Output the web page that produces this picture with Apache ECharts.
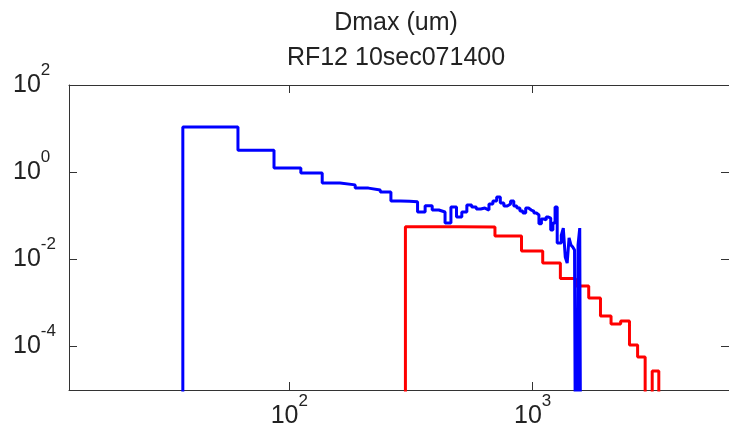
<!DOCTYPE html>
<html>
<head>
<meta charset="utf-8">
<script src="https://cdn.jsdelivr.net/npm/echarts@6/dist/echarts.min.js"></script>
<style>
html,body{margin:0;padding:0;background:#fff;}
#chart{width:729px;height:442px;}
</style>
</head>
<body>
<div id="chart"></div>
<script>
// ---- data ----
var TITLE_LINES = ['Dmax (um)', 'RF12 10sec071400'];

// blue: 25-um bins, left edges (last entry closes the final bin)
var blueEdges = [36.5, 61.5, 86.5, 111.5, 136.5, 161.5, 186.5, 211.5, 236.5, 261.5,
  286.5, 311.5, 336.5, 361.5, 386.5, 411.5, 436.5, 461.5, 486.5, 511.5,
  536.5, 561.5, 586.5, 611.5, 636.5, 661.5, 686.5, 711.5, 736.5, 761.5,
  786.5, 811.5, 836.5, 861.5, 886.5, 911.5, 936.5, 961.5, 986.5, 1011.5,
  1036.5, 1061.5, 1086.5, 1111.5, 1136.5, 1161.5, 1186.5, 1211.5, 1236.5, 1261.5,
  1286.5, 1311.5, 1336.5, 1361.5, 1386.5, 1411.5, 1436.5, 1461.5, 1486.5, 1511.5,
  1536.5, 1561.5, 1586.5];
var blueValues = [10.9, 3.2, 1.24, 0.95, 0.56, 0.51, 0.43, 0.39, 0.35, 0.218,
  0.215, 0.21, 0.1215, 0.17, 0.135, 0.122, 0.068, 0.158, 0.093, 0.1215,
  0.176, 0.158, 0.142, 0.15, 0.135, 0.185, 0.217, 0.269, 0.195, 0.167,
  0.185, 0.217, 0.167, 0.15, 0.128, 0.115, 0.15, 0.135, 0.128, 0.115,
  0.104, 0.065, 0.084, 0.08, 0.093, 0.0885, 0.047, 0.068, 0.158, 0.0236,
  0.0236, 0.036, 0.052, 0.0113, 0.0082, 0.031, 0.0213, 0.0191, 0.0163, 0,
  0.0213, 0.052, 0];

// red: 200-um bins
var redEdges = [300, 500, 700, 900, 1100, 1300, 1500, 1700, 1900, 2100, 2300, 2500, 2700, 2900, 3100, 3300];
var redValues = [0.056, 0.055, 0.0342, 0.0155, 0.0082, 0.00362, 0.00244, 0.00129, 0.000499, 0.000327,
  0.000383, 0.000108, 0.000057, 0, 0.0000272, 0];

var xTicks = [100, 1000];
var yTicks = [1e-4, 1e-2, 1, 100];
var xRange = [12.43, 6412];
var yRange = [1e-5, 100];

// ---- build ----
var FLOOR = 1e-12; // zero counts drawn below the axis floor (clipped)
function stairs(edges, vals) {
  var pts = [[edges[0], FLOOR]];
  for (var i = 0; i < edges.length; i++) {
    pts.push([edges[i], vals[i] > 0 ? vals[i] : FLOOR]);
  }
  return pts;
}
function powLabel(v) {
  var n = Math.round(Math.log(v) / Math.LN10);
  return '{b|10}{s|' + n + '}';
}
var FONT = 'Liberation Sans, Arial, Helvetica, sans-serif';
var TXT = '#222222';
var AX = '#333333';
var rich = {
  b: {fontSize: 25, lineHeight: 25, fontFamily: FONT, color: TXT, verticalAlign: 'middle'},
  s: {fontSize: 17, lineHeight: 17, fontFamily: FONT, color: TXT, verticalAlign: 'middle', padding: [0, 0, 30, 0]}
};
function axisBase(extra) {
  var o = {
    type: 'log', logBase: 10,
    axisLine: {show: true, lineStyle: {color: AX, width: 1}},
    splitLine: {show: false},
    minorTick: {show: false}
  };
  for (var k in extra) o[k] = extra[k];
  return o;
}

var chart = echarts.init(document.getElementById('chart'), null, {renderer: 'canvas'});
chart.setOption({
  animation: false,
  backgroundColor: '#ffffff',
  title: {
    text: TITLE_LINES.join('\n'),
    left: 396, top: 6, padding: 0,
    textAlign: 'center',
    textStyle: {fontFamily: FONT, fontSize: 25, lineHeight: 35, fontWeight: 'normal', color: TXT}
  },
  grid: {left: 69, right: -2, top: 85, bottom: 52, containLabel: false},
  xAxis: [
    axisBase({
      position: 'bottom', min: xRange[0], max: xRange[1],
      axisTick: {show: true, inside: true, length: 8, lineStyle: {color: AX}, customValues: xTicks},
      axisLabel: {show: true, margin: 14, customValues: xTicks, formatter: powLabel, rich: rich}
    }),
    axisBase({
      position: 'top', min: xRange[0], max: xRange[1],
      axisTick: {show: true, inside: true, length: 8, lineStyle: {color: AX}, customValues: xTicks},
      axisLabel: {show: false}
    })
  ],
  yAxis: [
    axisBase({
      position: 'left', min: yRange[0], max: yRange[1],
      axisTick: {show: true, inside: true, length: 8, lineStyle: {color: AX}, customValues: yTicks},
      axisLabel: {show: true, margin: 56, align: 'left', customValues: yTicks, formatter: powLabel, rich: rich}
    }),
    axisBase({
      position: 'right', min: yRange[0], max: yRange[1],
      axisTick: {show: true, inside: true, length: 8, lineStyle: {color: AX}, customValues: yTicks},
      axisLabel: {show: false}
    })
  ],
  series: [
    {
      type: 'line', name: 'red', step: 'end', symbol: 'none', clip: true,
      xAxisIndex: 0, yAxisIndex: 0,
      lineStyle: {color: '#ff0000', width: 3},
      data: stairs(redEdges, redValues)
    },
    {
      type: 'line', name: 'blue', step: 'end', symbol: 'none', clip: true,
      xAxisIndex: 0, yAxisIndex: 0,
      lineStyle: {color: '#0000ff', width: 3},
      data: stairs(blueEdges, blueValues)
    }
  ]
});
</script>
</body>
</html>
